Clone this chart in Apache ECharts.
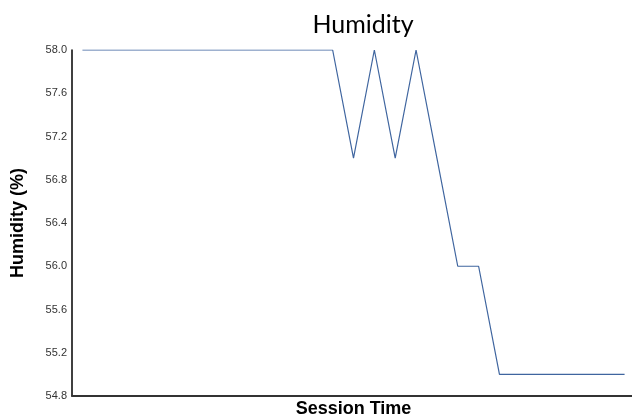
<!DOCTYPE html>
<html>
<head>
<meta charset="utf-8">
<script src="https://cdn.jsdelivr.net/npm/echarts@6/dist/echarts.min.js"></script>
<style>
  html, body { margin: 0; padding: 0; background: #fff; }
  #chart { width: 632px; height: 420px; }
</style>
</head>
<body>
<div id="chart"></div>
<script>
// session time steps (no labels shown on the axis)
const sessionSteps = Array.from({ length: 27 }, (_, i) => i + 1);
const humidity = [
  58, 58, 58, 58, 58, 58, 58, 58, 58, 58, 58, 58, 58,
  57, 58, 57, 58, 57, 56, 56, 55,
  55, 55, 55, 55, 55, 55
];
const yTicks = [54.8, 55.2, 55.6, 56.0, 56.4, 56.8, 57.2, 57.6, 58.0];

const myChart = echarts.init(document.getElementById('chart'));
myChart.setOption({
  animation: false,
  title: {
    text: 'Humidity',
    left: 358,
    top: 7,
    textAlign: 'center',
    textStyle: {
      fontFamily: 'Lato',
      fontWeight: 'normal',
      fontSize: 25,
      color: '#000'
    }
  },
  grid: {
    left: 72,
    right: -3,
    top: 50,
    bottom: 24,
    containLabel: false,
    outerBoundsMode: 'none'
  },
  xAxis: {
    type: 'category',
    data: sessionSteps,
    boundaryGap: true,
    name: 'Session Time',
    nameLocation: 'middle',
    nameGap: 4,
    nameTextStyle: {
      fontFamily: 'Liberation Sans',
      fontWeight: 'bold',
      fontSize: 18,
      color: '#000'
    },
    axisLine: { lineStyle: { color: '#333', width: 2 } },
    axisTick: { show: false },
    axisLabel: { show: false },
    splitLine: { show: false }
  },
  yAxis: {
    type: 'value',
    min: yTicks[0],
    max: yTicks[yTicks.length - 1],
    interval: 0.4,
    name: 'Humidity (%)',
    nameLocation: 'middle',
    nameGap: 45,
    nameTextStyle: {
      fontFamily: 'Liberation Sans',
      fontWeight: 'bold',
      fontSize: 18,
      color: '#000'
    },
    axisLine: { show: true, lineStyle: { color: '#000', width: 1.5 } },
    axisTick: { show: false },
    axisLabel: {
      fontFamily: 'Liberation Sans',
      fontSize: 11,
      color: '#333',
      margin: 5,
      formatter: v => v.toFixed(1)
    },
    splitLine: { show: false }
  },
  series: [
    {
      type: 'line',
      data: humidity,
      symbol: 'none',
      lineStyle: { color: '#3f659f', width: 1.2 }
    }
  ]
});
</script>
</body>
</html>
